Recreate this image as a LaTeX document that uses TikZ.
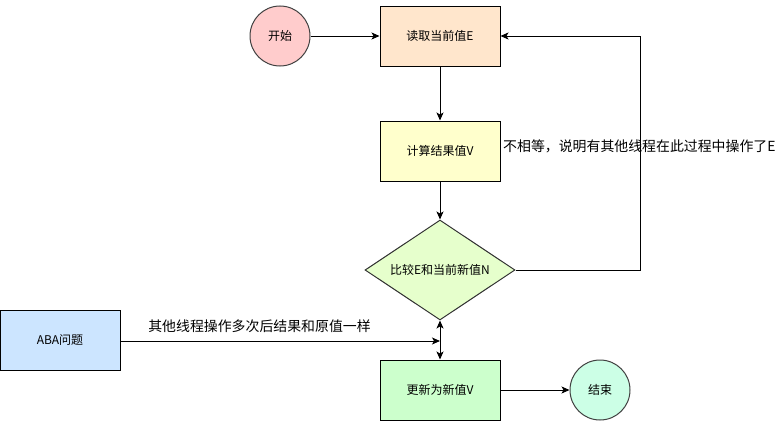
\documentclass[tikz,border=0pt]{standalone}
\usepackage{fontspec}
\setmainfont{Noto Sans CJK SC}
\usetikzlibrary{arrows.meta,shapes.geometric}
\definecolor{cStart}{HTML}{FFCCCC}
\definecolor{cRead}{HTML}{FFE6CC}
\definecolor{cCalc}{HTML}{FFFFCC}
\definecolor{cDia}{HTML}{E6FFCC}
\definecolor{cAba}{HTML}{CCE5FF}
\definecolor{cUpd}{HTML}{CCFFCC}
\definecolor{cEnd}{HTML}{CCFFE6}
\begin{document}
\begin{tikzpicture}[x=1pt,y=-1pt,
  every node/.style={font=\fontsize{12}{14}\selectfont, text=black},
  boxnode/.style={draw=black, line width=1pt, rectangle, minimum width=120pt, minimum height=60pt, inner sep=0pt},
  circnode/.style={draw=black!75, line width=1pt, circle, minimum size=60pt, inner sep=0pt},
  dianode/.style={draw=black!80, line width=1pt, diamond, minimum width=150pt, minimum height=100pt, inner sep=0pt, aspect=1.5},
  conn/.style={line width=1pt, -{Stealth[length=8pt,width=7pt,inset=2pt]}},
  lbl/.style={font=\fontsize{13.9}{15}\selectfont, inner sep=0pt}
]
\useasboundingbox (0,0) rectangle (778,431);
\node[circnode, fill=cStart] (start) at (280,36) {开始};
\node[boxnode, fill=cRead] (read) at (440,36) {读取当前值E};
\node[boxnode, fill=cCalc] (calc) at (440,151) {计算结果值V};
\node[dianode, fill=cDia] (cmp) at (440,270) {比较E和当前新值N};
\node[boxnode, fill=cAba] (aba) at (60,340) {ABA问题};
\node[boxnode, fill=cUpd] (upd) at (440,390) {更新为新值V};
\node[circnode, fill=cEnd] (end) at (600,390) {结束};

\draw[conn] (start) -- (read);
\draw[conn] (read) -- (calc);
\draw[conn] (calc) -- (cmp);
\coordinate (corner) at (640,270);
\draw[conn] (cmp.east) -- (corner) |- (read.east);
\node[lbl, anchor=west] (neq) at (503,146) {不相等，说明有其他线程在此过程中操作了E};
\draw[line width=1pt, {Stealth[length=8pt,width=7pt,inset=2pt]}-{Stealth[length=8pt,width=7pt,inset=2pt]}] (cmp.south) -- (upd.north);
\coordinate (join) at (440,341);
\draw[conn] (aba.east |- join) -- (join);
\node[lbl] (abalbl) at (259.5,326) {其他线程操作多次后结果和原值一样};
\draw[conn] (upd) -- (end);
\end{tikzpicture}
\end{document}
